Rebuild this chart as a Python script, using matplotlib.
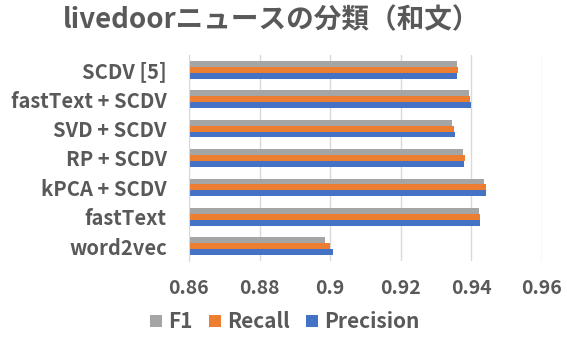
import matplotlib.pyplot as plt
import numpy as np

plt.rcParams['font.family'] = ['Noto Sans CJK JP', 'DejaVu Sans']

categories = ['SCDV [5]', 'fastText + SCDV', 'SVD + SCDV', 'RP + SCDV',
              'kPCA + SCDV', 'fastText', 'word2vec']
f1 = [0.9358, 0.9393, 0.9346, 0.9377, 0.9436, 0.9421, 0.8986]
recall = [0.9362, 0.9395, 0.9350, 0.9381, 0.9440, 0.9423, 0.8999]
precision = [0.9359, 0.9398, 0.9354, 0.9380, 0.9442, 0.9423, 0.9007]
xticks = [0.86, 0.88, 0.9, 0.92, 0.94, 0.96]
xtick_labels = ['0.86', '0.88', '0.9', '0.92', '0.94', '0.96']

text_color = '#595959'
fig = plt.figure(figsize=(5.67, 3.41), dpi=100)
ax = fig.add_axes([189 / 567, 1 - 261 / 341, (542 - 189) / 567, (261 - 55) / 341])

y = np.arange(len(categories))[::-1]
h = 0.2
ax.barh(y - h, precision, height=h, color='#4472C4', label='Precision')
ax.barh(y, recall, height=h, color='#ED7D31', label='Recall')
ax.barh(y + h, f1, height=h, color='#A5A5A5', label='F1')

ax.set_xlim(0.86, 0.96)
ax.set_ylim(-0.5, len(categories) - 0.5)
ax.set_xticks(xticks)
ax.set_xticklabels(xtick_labels)
ax.set_yticks(y)
ax.set_yticklabels(categories)
ax.grid(axis='x', color='#D9D9D9', linewidth=1)
ax.set_axisbelow(True)
for s in ['top', 'right', 'bottom']:
    ax.spines[s].set_visible(False)
ax.spines['left'].set_color('#D9D9D9')
ax.tick_params(length=0, colors=text_color)
ax.tick_params(axis='x', pad=13, labelsize=14)
ax.tick_params(axis='y', pad=16, labelsize=14.5)
for lab in ax.get_xticklabels() + ax.get_yticklabels():
    lab.set_fontweight('bold')

fig.text(272 / 567, 1 - 20 / 341, 'livedoorニュースの分類（和文）', ha='center', va='center',
         fontsize=19.9, fontweight='bold', color=text_color)

handles, labels = ax.get_legend_handles_labels()
leg = fig.legend(handles[::-1], labels[::-1], loc='center', bbox_to_anchor=(285 / 567, 1 - 322 / 341),
                 ncol=3, frameon=False, handlelength=0.55, handleheight=0.55, handletextpad=0.3,
                 columnspacing=0.8, prop={'weight': 'bold', 'size': 15})
for t in leg.get_texts():
    t.set_color(text_color)

fig.savefig('out.png', dpi=100)
